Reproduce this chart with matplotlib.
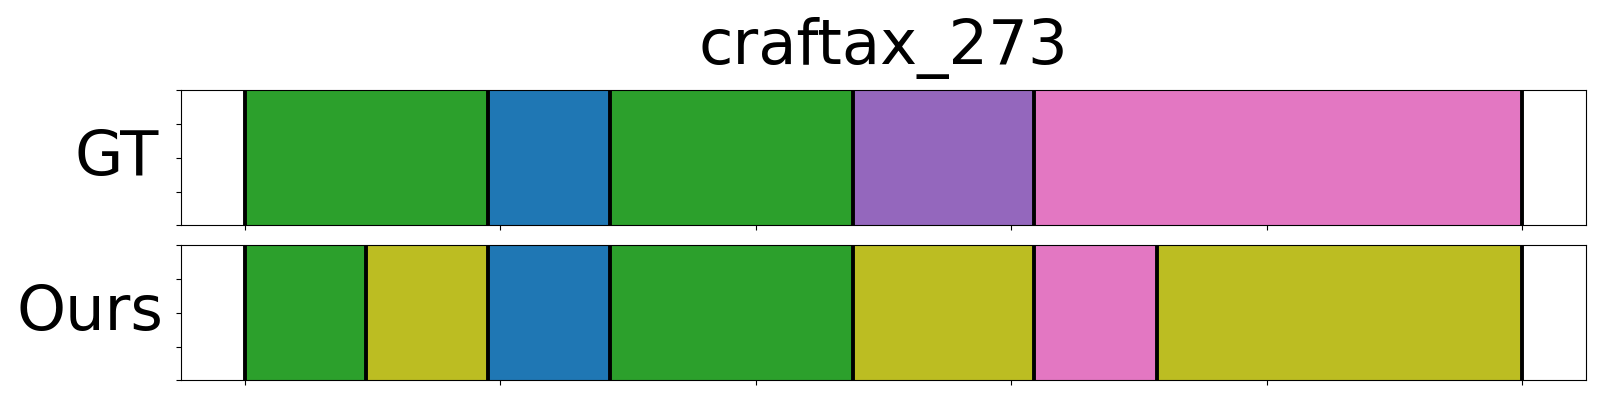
import matplotlib
matplotlib.use("Agg")
import matplotlib.pyplot as plt

title = "craftax_273"
row_names = ["GT", "Ours"]

# segment boundaries (frame index) and segment colours per row
gt_bounds = [0, 95, 143, 238, 309, 500]
gt_colors = ["tab:green", "tab:blue", "tab:green", "tab:purple", "tab:pink"]

ours_bounds = [0, 47.5, 95, 143, 238, 309, 357, 500]
ours_colors = ["tab:green", "tab:olive", "tab:blue", "tab:green",
               "tab:olive", "tab:pink", "tab:olive"]

x_ticks = [0, 100, 200, 300, 400, 500]


def draw_row(ax, bounds, colors, name, label_x):
    starts = bounds[:-1]
    widths = [b - a for a, b in zip(bounds[:-1], bounds[1:])]
    ax.barh(0.5, widths, left=starts, height=1.0, color=colors,
            edgecolor=colors, linewidth=0.5)
    for b in bounds:
        ax.axvline(b, color="black", linewidth=2.8)
    ax.set_xlim(-25, 525)
    ax.set_ylim(0, 1)
    ax.set_xticks(x_ticks)
    ax.set_xticklabels([])
    ax.set_yticks([0, 0.25, 0.5, 0.75, 1.0])
    ax.set_yticklabels([])
    ax.set_ylabel(name, rotation=0, fontsize=45, ha="right", va="center")
    ax.yaxis.set_label_coords(label_x, 0.5)


fig, axes = plt.subplots(2, 1, figsize=(16, 4), dpi=100)
fig.subplots_adjust(left=0.1133, right=0.9911, top=0.7743, bottom=0.0493,
                    hspace=0.148)

draw_row(axes[0], gt_bounds, gt_colors, row_names[0], -0.016)
draw_row(axes[1], ours_bounds, ours_colors, row_names[1], -0.013)
axes[0].set_title(title, fontsize=45, pad=19)

fig.savefig("out.png", dpi=100)
